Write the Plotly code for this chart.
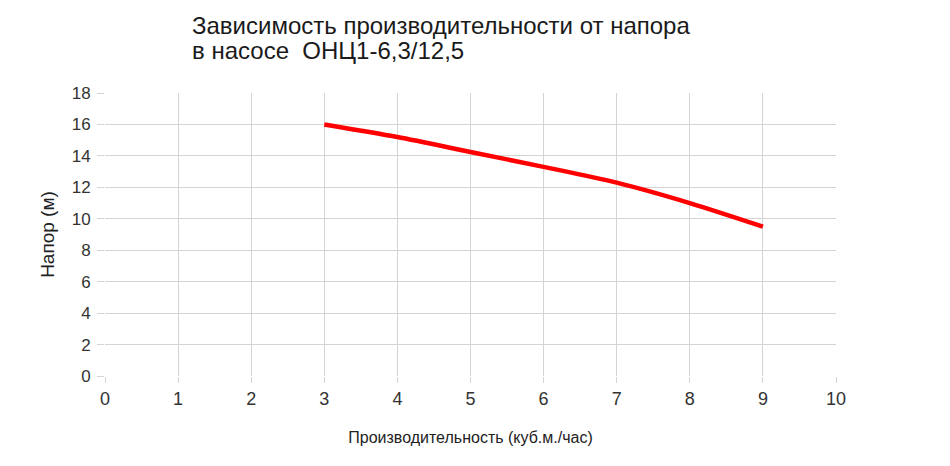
import plotly.graph_objects as go

flow = [3, 4, 5, 6, 7, 8, 9]
head = [16.0, 15.2, 14.25, 13.3, 12.3, 11.0, 9.5]
x_ticks = list(range(0, 11))
y_ticks = list(range(0, 19, 2))

title_lines = ["Зависимость производительности от напора", "в насосе  ОНЦ1-6,3/12,5"]
x_title = "Производительность (куб.м./час)"
y_title = "Напор (м)"

fig = go.Figure()
fig.add_trace(go.Scatter(
    x=flow, y=head, mode="lines",
    line=dict(color="#ff0000", width=4.5, shape="spline", smoothing=0.8),
    showlegend=False, hoverinfo="x+y",
))

grid = "#d4d4d4"
fig.update_layout(
    width=942, height=458,
    paper_bgcolor="white", plot_bgcolor="white",
    margin=dict(l=97, r=114, t=85, b=90),
    font=dict(family="Liberation Sans, Arial, sans-serif", color="#333333"),
)
for line_text, ypos in zip(title_lines, [1.238, 1.150]):
    fig.add_annotation(text=line_text, xref="paper", yref="paper", x=0.1163, y=ypos,
                       xanchor="left", yanchor="middle", showarrow=False,
                       font=dict(size=24, color="#1a1a1a"))
fig.update_xaxes(
    range=[0, 10], tickvals=x_ticks, showgrid=True, gridcolor=grid, gridwidth=1,
    zeroline=False, showline=False, ticks="outside", ticklen=6, tickcolor=grid,
    tickfont=dict(size=18, color="#333333"),
    title=dict(text=x_title, font=dict(size=16, color="#222222"), standoff=24),
)
fig.update_yaxes(
    range=[0, 18], tickvals=y_ticks, showgrid=True, gridcolor=grid, gridwidth=1,
    zeroline=False, showline=False, ticks="outside", ticklen=7, tickcolor=grid,
    tickfont=dict(size=17, color="#333333"), ticklabelstandoff=3,
    title=dict(text=y_title, font=dict(size=19, color="#222222"), standoff=12),
)
fig.write_html("out.html")
